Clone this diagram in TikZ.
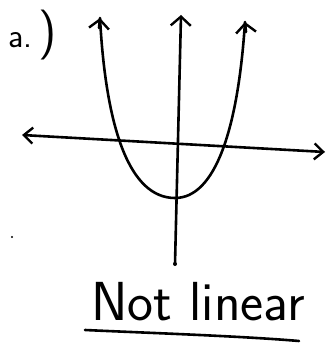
\documentclass[tikz,border=0pt]{standalone}
\usetikzlibrary{arrows.meta,positioning,calc}
\tikzset{
  penline/.style={line width=2.6pt, line cap=round, line join=round, draw=black},
  penarr/.style={penline, -{Straight Barb[length=9pt, width=20pt, line width=2.4pt]}},
  penboth/.style={penline, {Straight Barb[length=9pt, width=16pt, line width=2.4pt]}-{Straight Barb[length=9pt, width=16pt, line width=2.4pt]}},
  pentext/.style={font=\sffamily, inner sep=0pt},
}

\begin{document}
\begin{tikzpicture}[x=1pt, y=-1pt]
  \useasboundingbox (0,0) rectangle (327,347);

  % label
  \node[pentext, anchor=base west] (lab) at (8,48) {\fontsize{34}{34}\selectfont a.\,{\fontsize{50}{50}\selectfont)}};

  % axes
  \coordinate (ytop) at (181,15);
  \coordinate (ybot) at (175,264);
  \coordinate (xleft) at (22,135);
  \coordinate (xright) at (325,152);
  \draw[penboth] (xleft) -- (xright);
  \draw[penarr] (ybot) -- (ytop);
  \fill (ybot) circle (2pt);

  % parabola
  \coordinate (ltop) at (100,18);
  \coordinate (vert) at (175,198);
  \coordinate (rtop) at (245,22);
  \draw[penline] (vert) .. controls (130,198) and (106,130) .. (ltop);
  \draw[penline] (vert) .. controls (215,198) and (238,130) .. (rtop);
  \draw[penarr] ($(ltop)+(-1,10)$) -- (ltop);
  \draw[penarr] ($(rtop)+(1,10)$) -- (rtop);

  % stray mark
  \fill (12,237) circle (1.2pt);

  % caption
  \node[pentext] (cap) at (198,302) {\fontsize{55}{55}\selectfont Not linear};
  \coordinate (ul1) at (85,330);
  \coordinate (ul2) at (299,341);
  \draw[penline] (ul1) .. controls (150,333) and (240,336) .. (ul2);
\end{tikzpicture}
\end{document}
